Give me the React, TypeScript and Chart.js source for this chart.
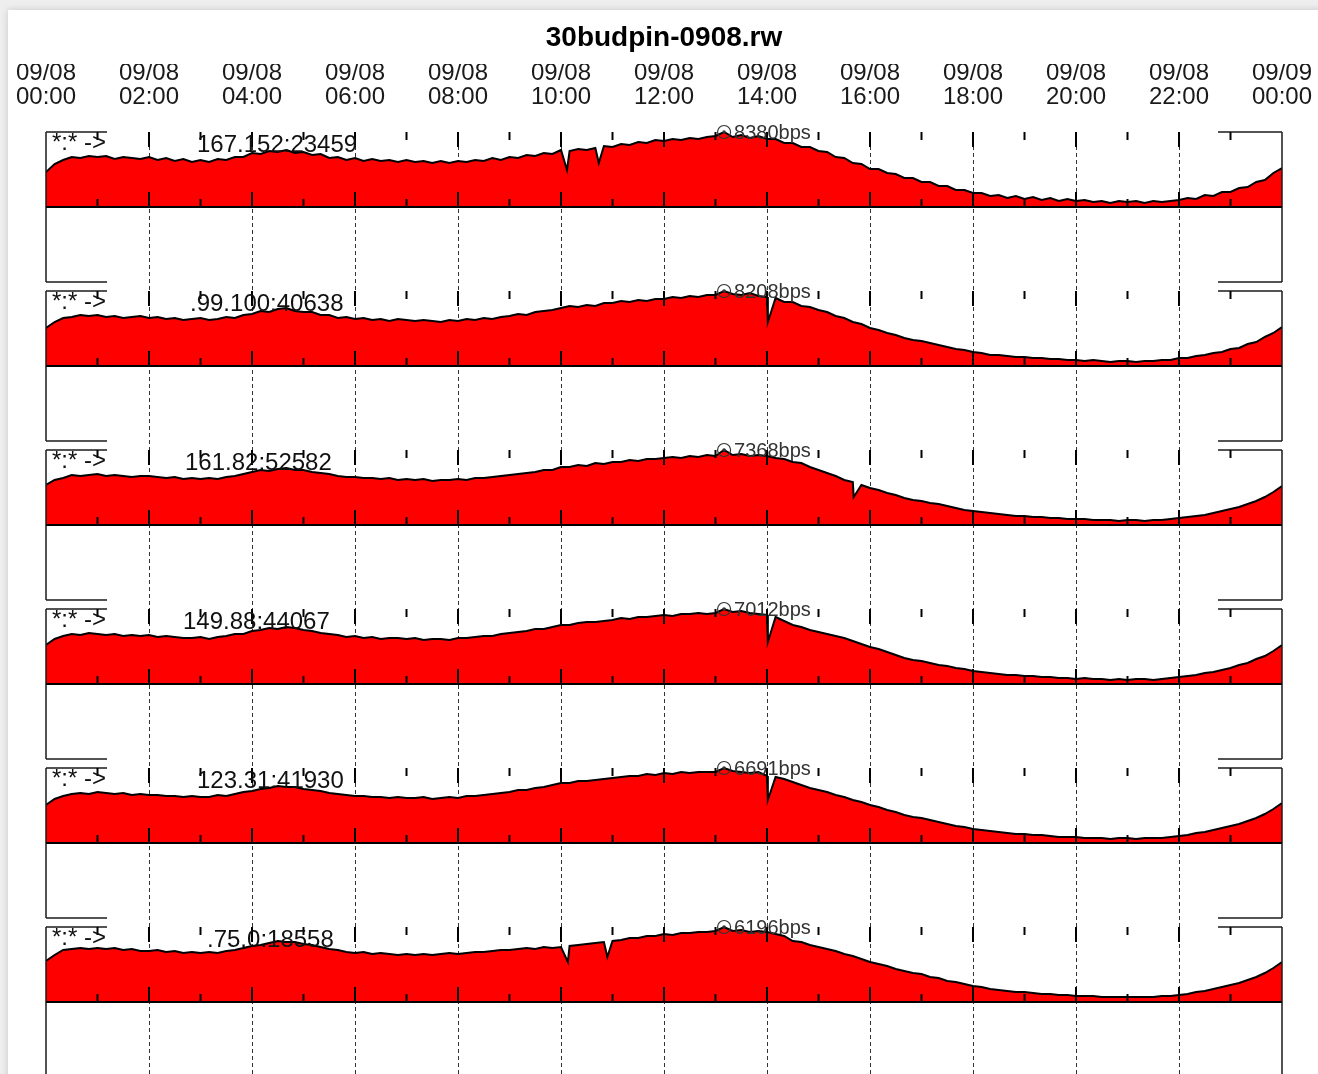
import React, { useEffect, useRef } from 'react';
import { Chart, registerables } from 'chart.js';

Chart.register(...registerables);

// ---- data -------------------------------------------------------------

const TITLE = '30budpin-0908.rw';

// one sample every 10 minutes, 09/08 00:00 .. 09/09 00:00
const SAMPLE_MINUTES = 10;

const TICK_LABELS = [
  ['09/08', '00:00'], ['09/08', '02:00'], ['09/08', '04:00'], ['09/08', '06:00'],
  ['09/08', '08:00'], ['09/08', '10:00'], ['09/08', '12:00'], ['09/08', '14:00'],
  ['09/08', '16:00'], ['09/08', '18:00'], ['09/08', '20:00'], ['09/08', '22:00'],
  ['09/09', '00:00'],
];

const FLOW_KEY = '*:* ->';

const DEST_LABELS = [
  '167.152:23459',
  '.99.100:40638',
  '161.82:52582',
  '149.88:44067',
  '123.31:41930',
  '.75.0:18558',
];

// bps per 10-minute bin
const FLOW_1 = [
  3911, 4804, 5251, 5587, 5475, 5698,
  5587, 5698, 5363, 5587, 5475, 5363,
  5587, 5251, 5475, 5140, 5363, 5028,
  5251, 5028, 5363, 5251, 5587, 5587,
  6033, 5922, 6257, 6145, 6369, 6033,
  6145, 5810, 5922, 5475, 5587, 5251,
  5475, 5140, 5363, 5140, 5251, 5028,
  5251, 5028, 5140, 4916, 5140, 4916,
  5140, 5028, 5251, 5140, 5475, 5251,
  5587, 5475, 5810, 5698, 6033, 5922,
  6369, 6257, 6480, 6369, 6592, 6816,
  6704, 7039, 6927, 7262, 7151, 7486,
  7374, 7598, 7486, 7709, 7598, 7821,
  7933, 8380, 7821, 8045, 7709, 7933,
  7598, 7598, 7151, 7151, 6704, 6704,
  6257, 6145, 5587, 5475, 4916, 4804,
  4246, 4246, 3799, 3687, 3240, 3240,
  2793, 2793, 2346, 2346, 1899, 1899,
  1564, 1564, 1229, 1341, 1006, 1229,
  894, 1117, 782, 1006, 670, 894,
  670, 782, 559, 670, 447, 670,
  559, 670, 447, 670, 559, 670,
  782, 1006, 894, 1341, 1229, 1676,
  1676, 2123, 2235, 2793, 3017, 3799,
  4357,
];

const FLOW_2 = [
  4159, 4815, 5253, 5363, 5581, 5472,
  5581, 5363, 5472, 5253, 5363, 5472,
  5253, 5363, 5144, 5253, 5034, 5144,
  5253, 5034, 5144, 5363, 5253, 5581,
  5691, 6019, 5910, 6238, 6348, 6019,
  5910, 5910, 5581, 5581, 5253, 5363,
  5144, 5253, 5034, 5144, 4925, 5144,
  5034, 4925, 5034, 4925, 4815, 5034,
  4925, 5144, 5034, 5253, 5144, 5363,
  5472, 5691, 5581, 5910, 6019, 6129,
  6348, 6566, 6457, 6676, 6566, 6895,
  6895, 7114, 7004, 7223, 7114, 7332,
  7332, 7551, 7442, 7661, 7551, 7770,
  7770, 8208, 7880, 7770, 7989, 7661,
  7551, 7442, 7004, 7004, 6566, 6457,
  6129, 5910, 5472, 5253, 4815, 4596,
  4159, 3940, 3612, 3393, 3064, 2845,
  2736, 2517, 2298, 2079, 1860, 1751,
  1532, 1423, 1204, 1204, 1094, 985,
  985, 876, 876, 766, 766, 657,
  657, 547, 657, 547, 438, 547,
  547, 438, 547, 547, 657, 657,
  876, 876, 1094, 1204, 1423, 1532,
  1860, 1970, 2408, 2627, 3174, 3612,
  4268,
];

const FLOW_3 = [
  3930, 4421, 4617, 4912, 4814, 4912,
  5010, 4814, 4912, 4814, 4716, 4814,
  4814, 4716, 4617, 4716, 4519, 4617,
  4519, 4617, 4519, 4716, 4814, 5010,
  5207, 5403, 5305, 5501, 5600, 5403,
  5403, 5207, 5108, 5010, 4814, 4716,
  4716, 4617, 4617, 4519, 4617, 4421,
  4519, 4421, 4519, 4323, 4421, 4421,
  4519, 4421, 4617, 4617, 4716, 4814,
  4912, 5010, 5108, 5207, 5403, 5403,
  5698, 5698, 5894, 5796, 6091, 5993,
  6189, 6189, 6386, 6287, 6484, 6484,
  6582, 6680, 6582, 6779, 6680, 6877,
  6779, 7368, 6877, 6975, 6779, 6877,
  6779, 6582, 6484, 6189, 6091, 5698,
  5403, 5108, 4814, 4421, 4224, 3930,
  3635, 3438, 3144, 2947, 2652, 2456,
  2358, 2161, 2063, 1867, 1670, 1474,
  1375, 1277, 1179, 1081, 982, 884,
  884, 786, 786, 688, 688, 589,
  589, 589, 491, 491, 491, 393,
  491, 491, 393, 491, 491, 589,
  688, 786, 884, 982, 1179, 1375,
  1572, 1768, 2063, 2358, 2751, 3242,
  3831,
];

const FLOW_4 = [
  3646, 4207, 4488, 4675, 4581, 4768,
  4675, 4581, 4675, 4488, 4581, 4488,
  4581, 4394, 4488, 4394, 4301, 4301,
  4394, 4207, 4394, 4488, 4675, 4675,
  4955, 5048, 5235, 5142, 5329, 5235,
  5048, 4955, 4768, 4675, 4581, 4394,
  4488, 4301, 4394, 4207, 4301, 4301,
  4207, 4301, 4114, 4207, 4207, 4114,
  4301, 4301, 4394, 4488, 4488, 4675,
  4768, 4861, 4955, 5142, 5142, 5329,
  5516, 5516, 5703, 5796, 5796, 5890,
  5983, 6170, 6077, 6264, 6264, 6357,
  6451, 6357, 6544, 6544, 6638, 6544,
  6638, 7012, 6731, 6825, 6638, 6544,
  6451, 6264, 5890, 5516, 5329, 5048,
  4861, 4675, 4488, 4301, 4020, 3740,
  3459, 3272, 2992, 2711, 2431, 2244,
  2150, 1963, 1776, 1683, 1496, 1402,
  1215, 1122, 1028, 935, 841, 841,
  748, 748, 654, 654, 561, 561,
  467, 561, 467, 467, 374, 467,
  374, 467, 467, 374, 467, 561,
  654, 748, 841, 1028, 1122, 1309,
  1496, 1776, 1963, 2337, 2618, 3085,
  3646,
];

const FLOW_5 = [
  3390, 3925, 4193, 4371, 4461, 4371,
  4550, 4461, 4371, 4461, 4282, 4371,
  4282, 4282, 4193, 4193, 4104, 4193,
  4104, 4104, 4282, 4193, 4371, 4550,
  4639, 4817, 4907, 5085, 4996, 4996,
  4817, 4728, 4639, 4461, 4371, 4282,
  4193, 4193, 4104, 4104, 4014, 4104,
  4014, 4014, 4104, 3925, 4014, 4104,
  4014, 4193, 4193, 4282, 4371, 4461,
  4550, 4728, 4728, 4907, 4996, 5174,
  5353, 5353, 5531, 5531, 5620, 5709,
  5799, 5888, 5977, 5977, 6155, 6066,
  6245, 6155, 6334, 6245, 6334, 6334,
  6334, 6691, 6423, 6334, 6245, 6334,
  5977, 5888, 5709, 5442, 5174, 4907,
  4728, 4550, 4282, 4104, 3836, 3658,
  3390, 3212, 2944, 2766, 2498, 2319,
  2230, 2052, 1873, 1695, 1517, 1427,
  1249, 1160, 1071, 981, 892, 803,
  803, 714, 714, 624, 535, 535,
  535, 446, 446, 446, 357, 446,
  446, 357, 446, 446, 446, 535,
  624, 714, 892, 981, 1160, 1338,
  1517, 1695, 1963, 2230, 2587, 3033,
  3568,
];

const FLOW_6 = [
  3387, 3883, 4296, 4378, 4461, 4378,
  4461, 4378, 4461, 4296, 4378, 4213,
  4213, 4296, 4131, 4213, 4048, 4131,
  4048, 4131, 4048, 4213, 4296, 4461,
  4626, 4709, 4874, 5039, 4957, 4957,
  4791, 4709, 4544, 4378, 4296, 4131,
  4048, 4131, 3965, 4048, 3965, 3883,
  3965, 3883, 3965, 3883, 3965, 4048,
  3965, 4048, 4131, 4131, 4213, 4296,
  4296, 4378, 4461, 4378, 4544, 4461,
  4544, 4626, 4709, 4791, 4874, 4957,
  5039, 5122, 5287, 5287, 5452, 5452,
  5617, 5535, 5700, 5700, 5783, 5783,
  5865, 6196, 5865, 5948, 5783, 5865,
  5783, 5617, 5452, 5039, 4957, 4709,
  4544, 4378, 4213, 3965, 3800, 3552,
  3304, 3139, 2974, 2726, 2561, 2396,
  2313, 2065, 1983, 1735, 1652, 1487,
  1322, 1239, 1074, 991, 909, 826,
  826, 743, 661, 661, 578, 578,
  496, 496, 496, 413, 413, 413,
  413, 413, 413, 413, 496, 496,
  578, 661, 826, 909, 1074, 1239,
  1404, 1570, 1817, 2065, 2396, 2809,
  3304,
];

// brief drops between bins: [minute of day, bps]
const DROPS_1 = [[607, 4134], [644, 4916]];
const DROPS_2 = [[841, 4815]];
const DROPS_3 = [[941, 2751]];
const DROPS_4 = [[841, 3927]];
const DROPS_5 = [[841, 3836]];
const DROPS_6 = [[608, 3304], [654, 3717]];

const FLOWS = [FLOW_1, FLOW_2, FLOW_3, FLOW_4, FLOW_5, FLOW_6];
const DROPS = [DROPS_1, DROPS_2, DROPS_3, DROPS_4, DROPS_5, DROPS_6];

// ---- layout & style ----------------------------------------------------

const CANVAS_W = 1318;
const CANVAS_H = 1074;
const PLOT_LEFT = 46;
const PLOT_RIGHT = 1282;
const PLOT_TOP = 132;
const PANEL_PITCH = 159;
const DATA_H = 75;
const PANEL_H = 150;
const KEY_W_LEFT = 61;
const KEY_W_RIGHT = 64;
const DEST_LABEL_X = [197, 190, 185, 183, 197, 207];
const FONT = '"Liberation Sans", Arial, Helvetica, sans-serif';
const FILL_RED = '#ff0000';

// merged, time-ordered points (x in hours) for one flow
function flowPoints(i: number) {
  const pts = FLOWS[i].map((v, j) => ({ x: (j * SAMPLE_MINUTES) / 60, y: v }));
  for (const [m, v] of DROPS[i]) pts.push({ x: m / 60, y: v });
  return pts.sort((a, b) => a.x - b.x);
}

// each panel gets its own hidden y scale: 0 sits on the panel's axis line,
// the series maximum touches the panel's top edge
function panelScale(i: number, peak: number) {
  const zeroPx = PLOT_TOP + i * PANEL_PITCH + DATA_H;
  const perPx = peak / DATA_H;
  const min = -(CANVAS_H - zeroPx) * perPx;
  const max = min + (CANVAS_H - PLOT_TOP) * perPx;
  return { type: 'linear', display: false, min, max };
}

function line(ctx: CanvasRenderingContext2D, x1: number, y1: number, x2: number, y2: number) {
  ctx.beginPath();
  ctx.moveTo(x1, y1);
  ctx.lineTo(x2, y2);
  ctx.stroke();
}

const panelPlugin = {
  id: 'flowPanels',
  beforeDraw(chart: any) {
    const ctx: CanvasRenderingContext2D = chart.ctx;
    ctx.save();
    ctx.fillStyle = '#eeeeee';
    ctx.fillRect(0, 0, chart.width, chart.height);
    ctx.shadowColor = 'rgba(0,0,0,0.16)';
    ctx.shadowBlur = 7;
    ctx.fillStyle = '#ffffff';
    ctx.fillRect(8, 10, chart.width, chart.height);
    ctx.restore();
  },
  beforeDatasetsDraw(chart: any) {
    const { ctx, chartArea } = chart;
    const x = chart.scales.x;
    ctx.save();
    ctx.strokeStyle = '#333333';
    ctx.lineWidth = 1;
    ctx.setLineDash([4, 3]);
    for (const t of x.ticks) {
      if (t.value <= x.min || t.value >= x.max) continue;
      const px = Math.round(x.getPixelForValue(t.value)) + 0.5;
      line(ctx, px, chartArea.top, px, chartArea.bottom);
    }
    ctx.restore();
  },
  afterDatasetsDraw(chart: any) {
    const { ctx, chartArea } = chart;
    const x = chart.scales.x;
    const L = chartArea.left;
    const R = chartArea.right;
    ctx.save();
    ctx.setLineDash([]);
    FLOWS.forEach((_, i) => {
      const T = chartArea.top + i * PANEL_PITCH;
      const A = T + DATA_H;
      const B = T + PANEL_H;

      // frame
      ctx.strokeStyle = '#1a1a1a';
      ctx.lineWidth = 1.5;
      line(ctx, L, T, L, B);
      line(ctx, R, T, R, B);
      line(ctx, L, T, L + KEY_W_LEFT, T);
      line(ctx, R - KEY_W_RIGHT, T, R, T);
      line(ctx, L, B, L + KEY_W_LEFT, B);
      line(ctx, R - KEY_W_RIGHT, B, R, B);

      // axis line
      ctx.strokeStyle = '#000000';
      ctx.lineWidth = 2;
      line(ctx, L, A, R, A);

      // hourly ticks, longer every two hours
      for (let h = 1; h < 24; h++) {
        const px = x.getPixelForValue(h);
        const len = h % 2 === 0 ? 15 : 8;
        line(ctx, px, T, px, T + len);
        line(ctx, px, A - len, px, A);
      }

      // key and destination labels
      ctx.fillStyle = '#111111';
      ctx.textBaseline = 'alphabetic';
      ctx.textAlign = 'left';
      ctx.font = `24px ${FONT}`;
      ctx.fillText(FLOW_KEY, L + 6, T + 17.5);
      ctx.fillText(DEST_LABELS[i], DEST_LABEL_X[i], T + 20);

      // peak marker on the highest sample
      const meta = chart.getDatasetMeta(i);
      const raw = chart.data.datasets[i].data as { x: number; y: number }[];
      let mi = 0;
      for (let j = 1; j < raw.length; j++) if (raw[j].y > raw[mi].y) mi = j;
      const pt = meta.data[mi];
      ctx.strokeStyle = '#333333';
      ctx.lineWidth = 1.2;
      ctx.beginPath();
      ctx.arc(pt.x, pt.y, 6.5, 0, Math.PI * 2);
      ctx.stroke();
      ctx.fillStyle = '#333333';
      ctx.beginPath();
      ctx.arc(pt.x, pt.y, 1.8, 0, Math.PI * 2);
      ctx.fill();
      ctx.font = `20px ${FONT}`;
      ctx.fillText(`${raw[mi].y}bps`, pt.x + 10, pt.y + 6.5);
    });
    ctx.restore();
  },
};

export default function App() {
  const canvasRef = useRef<HTMLCanvasElement | null>(null);

  useEffect(() => {
    const canvas = canvasRef.current;
    if (!canvas) return;

    const scales: any = {
      x: {
        type: 'linear',
        position: 'top',
        min: 0,
        max: 24,
        grid: { display: false, drawTicks: false },
        border: { display: false },
        ticks: {
          stepSize: 2,
          autoSkip: false,
          maxRotation: 0,
          padding: 23,
          color: '#1a1a1a',
          font: { family: FONT, size: 24, lineHeight: '24px' },
          callback: (v: number) => TICK_LABELS[Math.round(v / 2)],
        },
        afterFit: (s: any) => {
          s.height = 68;
          s.paddingLeft = 0;
          s.paddingRight = 0;
        },
      },
    };
    const datasets = FLOWS.map((_, i) => {
      const pts = flowPoints(i);
      scales[`y${i}`] = panelScale(i, Math.max(...pts.map((p) => p.y)));
      return {
        label: DEST_LABELS[i],
        data: pts,
        yAxisID: `y${i}`,
        borderColor: '#000000',
        borderWidth: 2,
        backgroundColor: FILL_RED,
        fill: { value: 0 },
        pointRadius: 0,
        tension: 0,
      };
    });

    const chart = new Chart(canvas, {
      type: 'line',
      data: { datasets },
      options: {
        animation: false,
        responsive: false,
        devicePixelRatio: 1,
        events: [],
        layout: {
          padding: { left: PLOT_LEFT, right: CANVAS_W - PLOT_RIGHT, top: 0, bottom: 0 },
        },
        scales,
        plugins: {
          legend: { display: false },
          tooltip: { enabled: false },
          title: {
            display: true,
            text: TITLE,
            color: '#000000',
            font: { family: FONT, size: 28, weight: 'bold', lineHeight: '32px' },
            padding: { top: 22, bottom: 10 },
          },
        },
      } as any,
      plugins: [panelPlugin],
    });

    return () => chart.destroy();
  }, []);

  return (
    <canvas
      ref={canvasRef}
      width={CANVAS_W}
      height={CANVAS_H}
      style={{ position: 'fixed', left: 0, top: 0, width: CANVAS_W, height: CANVAS_H, display: 'block' }}
    />
  );
}
